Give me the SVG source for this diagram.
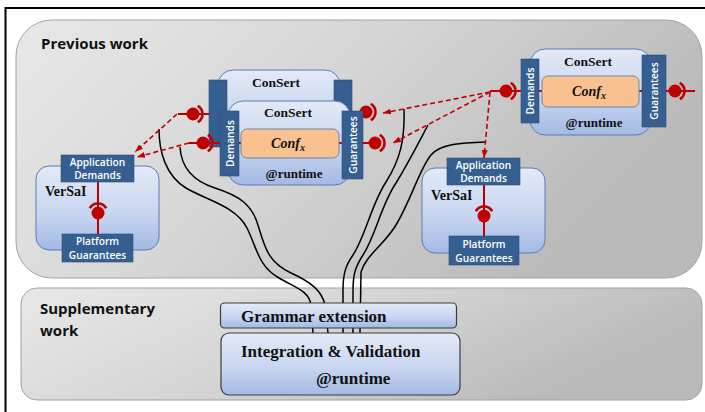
<svg xmlns="http://www.w3.org/2000/svg" xmlns:xlink="http://www.w3.org/1999/xlink" width="705" height="412" viewBox="0 0 705 412">
  <defs>
    <linearGradient id="panelFill" x1="0" y1="0" x2="1" y2="0.35">
      <stop offset="0" stop-color="#e8e8e8"/>
      <stop offset="0.5" stop-color="#d5d5d5"/>
      <stop offset="1" stop-color="#b9b9b9"/>
    </linearGradient>
    <linearGradient id="boxFill" x1="0" y1="0" x2="0" y2="1">
      <stop offset="0" stop-color="#e3eaf7"/>
      <stop offset="0.55" stop-color="#c8d6f0"/>
      <stop offset="1" stop-color="#a3b9e4"/>
    </linearGradient>
    <marker id="arr" viewBox="0 0 8 6" refX="8" refY="3" markerWidth="8" markerHeight="6" markerUnits="userSpaceOnUse" orient="auto">
      <path d="M0,0 L8,3 L0,6 z" fill="#c00000"/>
    </marker>
    <!-- ball with a socket arc opening towards the ball (right side) -->
    <g id="ballSocket">
      <circle r="6.5" fill="#c00000"/>
      <path d="M4.75,-8.23 A9.5,9.5 0 0 1 4.75,8.23" fill="none" stroke="#c00000" stroke-width="2.6"/>
    </g>
    <style>
      .panel { fill: url(#panelFill); stroke: #a3a3a3; stroke-width: 1; }
      .title { font-family: "Open Sans", "Liberation Sans", sans-serif; font-weight: bold; font-size: 15px; fill: #111; }
      .box { fill: url(#boxFill); stroke: #5a7db3; stroke-width: 1; }
      .wbox { fill: url(#boxFill); stroke: #3c3c3c; stroke-width: 1.2; }
      .bar { fill: #365f91; stroke: #2d4f7a; stroke-width: 0.6; }
      .conf { fill: #f9c18f; stroke: #6f84a8; stroke-width: 1; }
      .lbl { font-family: "Open Sans", "Liberation Sans", sans-serif; font-weight: 600; font-size: 10.2px; fill: #ffffff; text-anchor: middle; }
      .vlbl { font-family: "Open Sans", "Liberation Sans", sans-serif; font-weight: 600; font-size: 10.2px; fill: #ffffff; text-anchor: middle; dominant-baseline: central; }
      .serif { font-family: "Liberation Serif", "Times New Roman", serif; font-weight: bold; fill: #111; }
      .mid { text-anchor: middle; }
      .red { stroke: #c00000; stroke-width: 2; fill: none; }
      .dash { stroke: #c00000; stroke-width: 1.6; stroke-dasharray: 5 3; fill: none; marker-end: url(#arr); }
      .wire { stroke: #000; stroke-width: 1.5; fill: none; }
    </style>
  </defs>

  <rect width="705" height="412" fill="#ffffff"/>
  <!-- outer frame -->
  <rect x="5.5" y="8" width="710" height="420" fill="none" stroke="#000" stroke-width="2"/>

  <!-- panels -->
  <g id="previous-work">
    <rect class="panel" x="16" y="20" width="686" height="258" rx="36"/>
    <text class="title" x="41" y="49">Previous work</text>
  </g>
  <g id="supplementary-work">
    <rect class="panel" x="21" y="288" width="681" height="112" rx="16"/>
    <text class="title" x="40" y="314">Supplementary</text>
    <text class="title" x="40" y="336">work</text>
  </g>

  <!-- connectors -->
  <g id="connectors">
    <!-- wires towards the supplementary work -->
    <path class="wire" d="M159,129 C159,152 166,176 186,188 C206,200 236,206 247,228 C257,248 258,266 279,278 C296,288 309,291 311,305 L313,333"/>
    <path class="wire" d="M180,147 C181,165 190,180 215,188 C240,196 252,205 258,225 C265,248 268,262 291,273 C311,282 322,291 325,305 L328,333"/>
    <path class="wire" d="M404,109 C405,140 400,160 386,182 C371,205 366,235 353,255 C346,265 343,273 343,290 L343,333"/>
    <path class="wire" d="M428,125 C420,140 410,160 396,183 C381,205 376,235 363,255 C356,266 353,273 353,290 L353,333"/>
    <path class="wire" d="M485,142 C465,143 441,143 431,155 C420,168 411,200 396,225 C384,245 366,255 361,272 L360,333"/>
  </g>

  <!-- left VerSaI -->
  <g id="versai-left">
    <rect class="box" x="36" y="166" width="123" height="84" rx="13"/>
    <line class="red" x1="98" y1="182" x2="98" y2="234"/>
    <use xlink:href="#ballSocket" transform="translate(98,213) rotate(-90)"/>
    <rect class="bar" x="61" y="155" width="73" height="27"/>
    <text class="lbl" x="97.5" y="166">Application</text>
    <text class="lbl" x="97.5" y="179">Demands</text>
    <rect class="bar" x="62" y="234" width="71" height="28"/>
    <text class="lbl" x="97.5" y="245">Platform</text>
    <text class="lbl" x="97.5" y="259">Guarantees</text>
    <text class="serif" x="45" y="196" font-size="14">VerSaI</text>
  </g>

  <!-- right VerSaI -->
  <g id="versai-right">
    <rect class="box" x="422" y="168" width="123" height="85" rx="13"/>
    <line class="red" x1="484" y1="185" x2="484" y2="236"/>
    <use xlink:href="#ballSocket" transform="translate(484,216) rotate(-90)"/>
    <rect class="bar" x="447" y="158" width="73" height="27"/>
    <text class="lbl" x="483.5" y="169">Application</text>
    <text class="lbl" x="483.5" y="182">Demands</text>
    <rect class="bar" x="449" y="236" width="70" height="29"/>
    <text class="lbl" x="484" y="248">Platform</text>
    <text class="lbl" x="484" y="262">Guarantees</text>
    <text class="serif" x="431" y="200" font-size="14">VerSaI</text>
  </g>

  <!-- ConSert behind -->
  <g id="consert-back">
    <rect class="box" x="218" y="70" width="122" height="80" rx="15"/>
    <text class="serif mid" x="276" y="87" font-size="13.5">ConSert</text>
    <rect class="bar" x="209" y="80" width="18" height="67"/>
    <rect class="bar" x="334" y="80" width="18" height="50"/>
    <line class="red" x1="178" y1="114" x2="209" y2="114"/>
    <use xlink:href="#ballSocket" x="193" y="114"/>
    <use xlink:href="#ballSocket" x="366" y="112"/>
  </g>

  <!-- ConSert in front -->
  <g id="consert-front">
    <rect class="box" x="228" y="101" width="122" height="84" rx="15"/>
    <text class="serif mid" x="288" y="117" font-size="13.5">ConSert</text>
    <line class="red" x1="189" y1="143" x2="375" y2="143"/>
    <use xlink:href="#ballSocket" x="203" y="143"/>
    <rect class="conf" x="241" y="129" width="98" height="29" rx="6"/>
    <text class="serif mid" x="288" y="148" font-size="14" font-style="italic">Conf<tspan font-size="10" dy="3">x</tspan></text>
    <text class="serif mid" x="294" y="178" font-size="13">@runtime</text>
    <rect class="bar" x="220" y="111" width="19" height="65"/>
    <text class="vlbl" transform="translate(229.5,143.5) rotate(-90)">Demands</text>
    <rect class="bar" x="342" y="111" width="21" height="68"/>
    <text class="vlbl" transform="translate(352.5,145) rotate(-90)">Guarantees</text>
    <use xlink:href="#ballSocket" x="375" y="143"/>
  </g>

  <!-- ConSert on the right -->
  <g id="consert-right">
    <rect class="box" x="530" y="49" width="121" height="86" rx="15"/>
    <text class="serif mid" x="588" y="66" font-size="13.5">ConSert</text>
    <line class="red" x1="490" y1="91" x2="695" y2="91"/>
    <use xlink:href="#ballSocket" x="506" y="91"/>
    <rect class="conf" x="542" y="76" width="97" height="31" rx="6"/>
    <text class="serif mid" x="589" y="96" font-size="14" font-style="italic">Conf<tspan font-size="10" dy="3">x</tspan></text>
    <text class="serif mid" x="594" y="127" font-size="13">@runtime</text>
    <rect class="bar" x="521" y="59" width="18" height="64"/>
    <text class="vlbl" transform="translate(530,91) rotate(-90)">Demands</text>
    <rect class="bar" x="642" y="55" width="24" height="72"/>
    <text class="vlbl" transform="translate(654,91) rotate(-90)">Guarantees</text>
    <use xlink:href="#ballSocket" x="675" y="91"/>
  </g>

  <!-- dashed demand links -->
  <g id="links">
    <path class="dash" d="M177,114 L135,152"/>
    <path class="dash" d="M189,143 L137,157"/>
    <path class="dash" d="M490,92 L383,113"/>
    <path class="dash" d="M490,92 L393,143"/>
    <path class="dash" d="M490,92 L484,158"/>
  </g>

  <!-- supplementary work -->
  <g id="grammar-extension">
    <rect class="wbox" x="220.5" y="303" width="236" height="25" rx="4"/>
    <text class="serif" x="241" y="322" font-size="17">Grammar extension</text>
  </g>
  <g id="integration-validation">
    <rect class="wbox" x="221" y="333" width="239" height="62" rx="8"/>
    <text class="serif" x="241" y="357" font-size="17">Integration &amp; Validation</text>
    <text class="serif" x="316" y="384" font-size="17">@runtime</text>
  </g>
</svg>
